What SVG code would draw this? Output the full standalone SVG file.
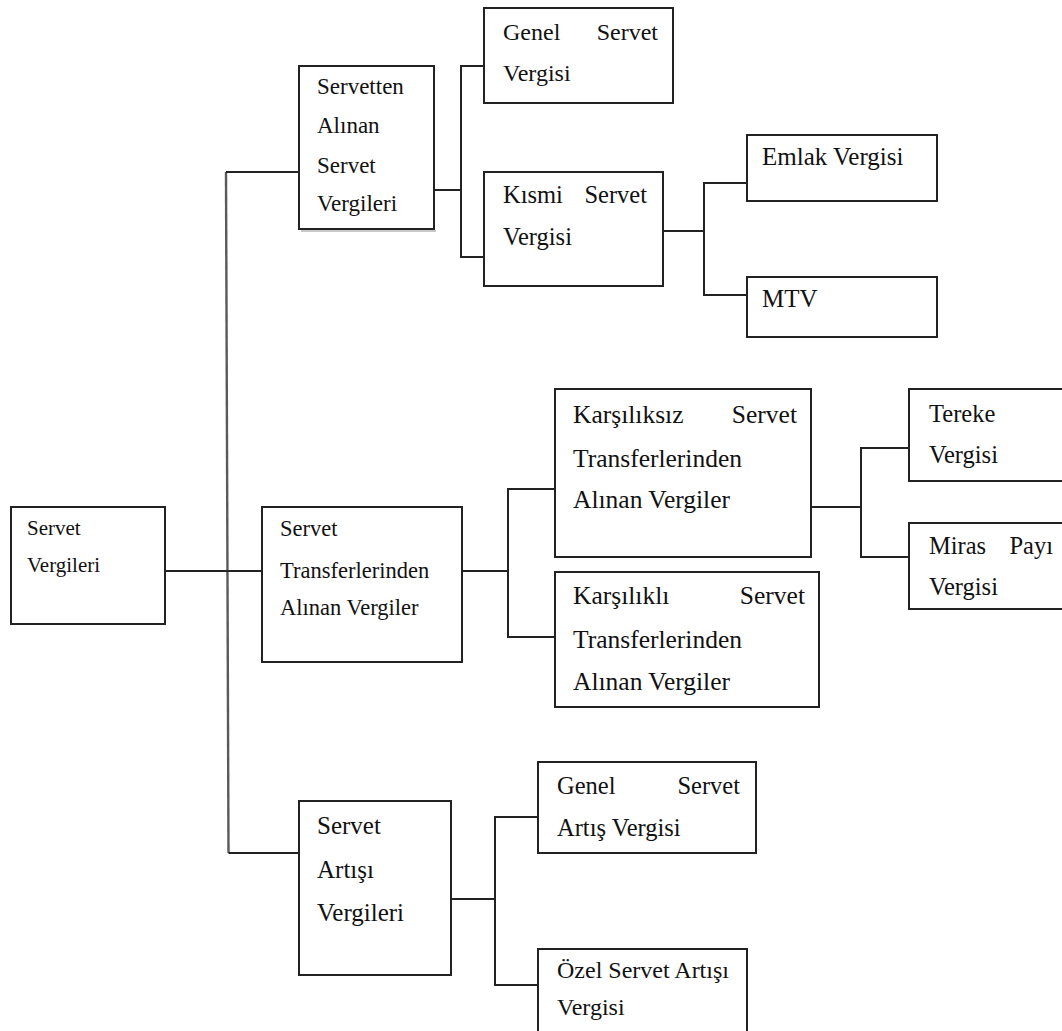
<svg xmlns="http://www.w3.org/2000/svg" width="1062" height="1031" viewBox="0 0 1062 1031">
<style>
  .box { fill: #fff; stroke: #222; stroke-width: 2; }
  .con { fill: none; stroke: #222; stroke-width: 2; }
  .trunk { fill: none; stroke: #5a5a5a; stroke-width: 2.4; }
  text { font-family: "Liberation Serif", "Times New Roman", serif; fill: #111; }
  .f21 { font-size: 21px; }
  .f225 { font-size: 22.5px; }
  .f23 { font-size: 23px; }
  .f24 { font-size: 24px; }
  .f245 { font-size: 24.5px; }
  .f25 { font-size: 25px; }
  .f255 { font-size: 25.5px; }
  .end { text-anchor: end; }
</style>
<rect width="1062" height="1031" fill="#fff"/>

<g id="connectors">
  <line class="trunk" x1="226" y1="172" x2="228.5" y2="853"/>
  <polyline class="con" points="299,172 226,172"/>
  <polyline class="con" points="228.5,853 299,853"/>
  <line class="con" x1="165" y1="571" x2="262" y2="571"/>
  <line class="con" x1="434" y1="190" x2="461" y2="190"/>
  <polyline class="con" points="484,66 461,66 461,257 484,257"/>
  <line class="con" x1="663" y1="231" x2="704" y2="231"/>
  <polyline class="con" points="747,183 704,183 704,295 747,295"/>
  <line class="con" x1="462" y1="571" x2="508" y2="571"/>
  <polyline class="con" points="555,489 508,489 508,637 555,637"/>
  <line class="con" x1="811" y1="507" x2="861" y2="507"/>
  <polyline class="con" points="909,448 861,448 861,557 909,557"/>
  <line class="con" x1="451" y1="899" x2="495" y2="899"/>
  <polyline class="con" points="538,817 495,817 495,985 538,985"/>
</g>

<g id="servet-vergileri">
  <rect class="box" x="11" y="507" width="154" height="117"/>
  <text class="f21" x="27" y="535">Servet</text>
  <text class="f21" x="27" y="572">Vergileri</text>
</g>

<g id="servetten-alinan">
  <line x1="301" y1="231" x2="436" y2="231" stroke="#c8c8c8" stroke-width="2"/>
  <rect class="box" x="299" y="66" width="135" height="163"/>
  <text class="f23" x="317" y="94">Servetten</text>
  <text class="f23" x="317" y="133">Alınan</text>
  <text class="f23" x="317" y="173">Servet</text>
  <text class="f23" x="317" y="211">Vergileri</text>
</g>

<g id="genel-servet-vergisi">
  <rect class="box" x="484" y="8" width="189" height="95"/>
  <text class="f24" x="503" y="40">Genel</text>
  <text class="f24 end" x="658" y="40">Servet</text>
  <text class="f24" x="503" y="81">Vergisi</text>
</g>

<g id="kismi-servet-vergisi">
  <rect class="box" x="484" y="172" width="179" height="114"/>
  <text class="f245" x="503" y="203">Kısmi</text>
  <text class="f245 end" x="647" y="203">Servet</text>
  <text class="f245" x="503" y="245">Vergisi</text>
</g>

<g id="emlak-vergisi">
  <rect class="box" x="747" y="135" width="190" height="66"/>
  <text class="f25" x="762" y="165">Emlak Vergisi</text>
</g>

<g id="mtv">
  <rect class="box" x="747" y="277" width="190" height="60"/>
  <text class="f25" x="762" y="307">MTV</text>
</g>

<g id="servet-transferlerinden">
  <rect class="box" x="262" y="507" width="200" height="155"/>
  <text class="f225" x="280" y="536">Servet</text>
  <text class="f225" x="280" y="578">Transferlerinden</text>
  <text class="f225" x="280" y="615">Alınan Vergiler</text>
</g>

<g id="karsiliksiz">
  <rect class="box" x="555" y="389" width="256" height="168"/>
  <text class="f255" x="573" y="423">Karşılıksız</text>
  <text class="f255 end" x="797" y="423">Servet</text>
  <text class="f255" x="573" y="467">Transferlerinden</text>
  <text class="f255" x="573" y="508">Alınan Vergiler</text>
</g>

<g id="karsilikli">
  <rect class="box" x="555" y="572" width="264" height="135"/>
  <text class="f255" x="573" y="604">Karşılıklı</text>
  <text class="f255 end" x="805" y="604">Servet</text>
  <text class="f255" x="573" y="648">Transferlerinden</text>
  <text class="f255" x="573" y="690">Alınan Vergiler</text>
</g>

<g id="tereke-vergisi">
  <rect class="box" x="909" y="389" width="170" height="92"/>
  <text class="f245" x="929" y="422">Tereke</text>
  <text class="f245" x="929" y="463">Vergisi</text>
</g>

<g id="miras-payi-vergisi">
  <rect class="box" x="909" y="523" width="170" height="86"/>
  <text class="f245" x="929" y="554">Miras</text>
  <text class="f245 end" x="1053" y="554">Payı</text>
  <text class="f245" x="929" y="595">Vergisi</text>
</g>

<g id="servet-artisi">
  <rect class="box" x="299" y="801" width="152" height="174"/>
  <text class="f25" x="317" y="834">Servet</text>
  <text class="f25" x="317" y="878">Artışı</text>
  <text class="f25" x="317" y="921">Vergileri</text>
</g>

<g id="genel-servet-artis">
  <rect class="box" x="538" y="762" width="218" height="91"/>
  <text class="f245" x="557" y="794">Genel</text>
  <text class="f245 end" x="740" y="794">Servet</text>
  <text class="f245" x="557" y="836">Artış Vergisi</text>
</g>

<g id="ozel-servet-artisi">
  <rect class="box" x="538" y="949" width="209" height="100"/>
  <text class="f24" x="557" y="978">Özel Servet Artışı</text>
  <text class="f24" x="557" y="1015">Vergisi</text>
</g>
</svg>
